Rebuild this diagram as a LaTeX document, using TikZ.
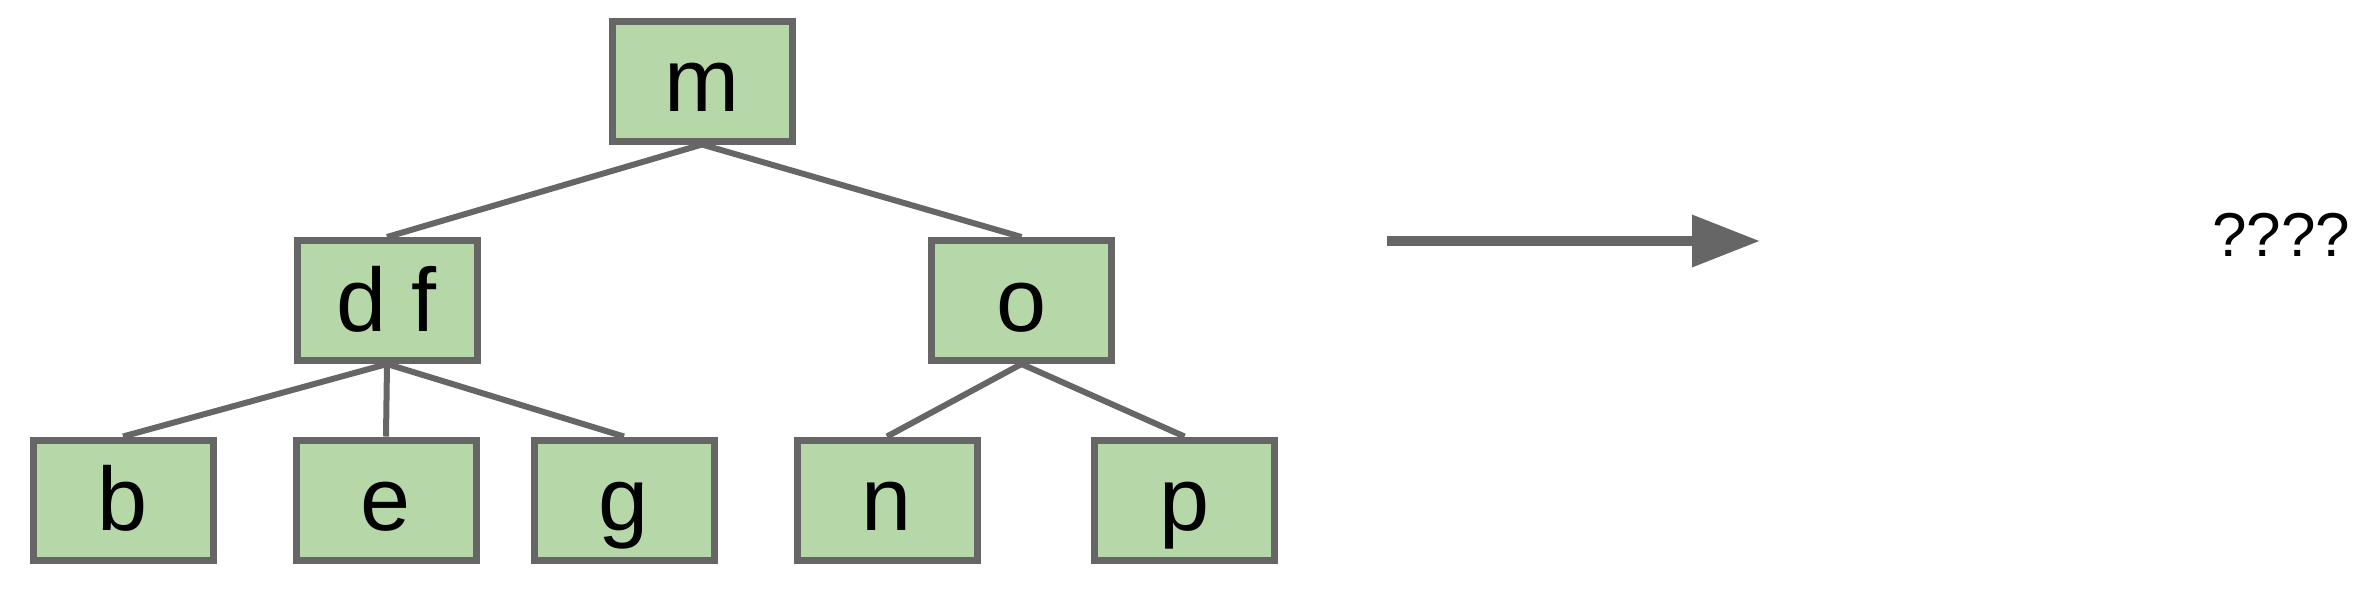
\documentclass[tikz,border=0pt]{standalone}
\usepackage{fontspec}
\setmainfont{Liberation Sans}
\usepackage{tikz}
\usetikzlibrary{arrows.meta}
\definecolor{leafgreen}{HTML}{B6D7A8}
\definecolor{edgegray}{HTML}{666666}

\begin{document}
\begin{tikzpicture}[x=0.25pt,y=-0.25pt,
    treenode/.style={draw=edgegray,fill=leafgreen,line width=1.75pt,
      minimum width=45pt,minimum height=30pt,inner sep=0pt,
      text height=15.25pt,text depth=0pt,
      font=\fontsize{22.5pt}{27pt}\selectfont},
    treeedge/.style={draw=edgegray,line width=1.5pt}]
  \useasboundingbox (0,0) rectangle (2366,592);
  \node[treenode] (m) at (702,81) {m};
  \node[treenode] (df) at (387,300.5) {d f};
  \node[treenode] (o) at (1021.5,300.5) {o};
  \node[treenode] (b) at (123,500) {b};
  \node[treenode] (e) at (386,500) {e};
  \node[treenode] (g) at (624,500) {g};
  \node[treenode] (n) at (887,500) {n};
  \node[treenode] (p) at (1184.5,500) {p};
  \draw[treeedge] (m.south) -- (df.north);
  \draw[treeedge] (m.south) -- (o.north);
  \draw[treeedge] (df.south) -- (b.north);
  \draw[treeedge] (df.south) -- (e.north);
  \draw[treeedge] (df.south) -- (g.north);
  \draw[treeedge] (o.south) -- (n.north);
  \draw[treeedge] (o.south) -- (p.north);
  % big arrow to the unknown
  \coordinate (arrowstart) at (1387,241);
  \coordinate (arrowend) at (1760,241);
  \draw[edgegray,line width=2.5pt,-{Triangle[length=17pt,width=12.5pt]}] (arrowstart) -- (arrowend);
  \node[anchor=base,inner sep=0pt,font=\fontsize{15.5pt}{18pt}\selectfont] (unknown) at (2281,256) {????};
\end{tikzpicture}
\end{document}
